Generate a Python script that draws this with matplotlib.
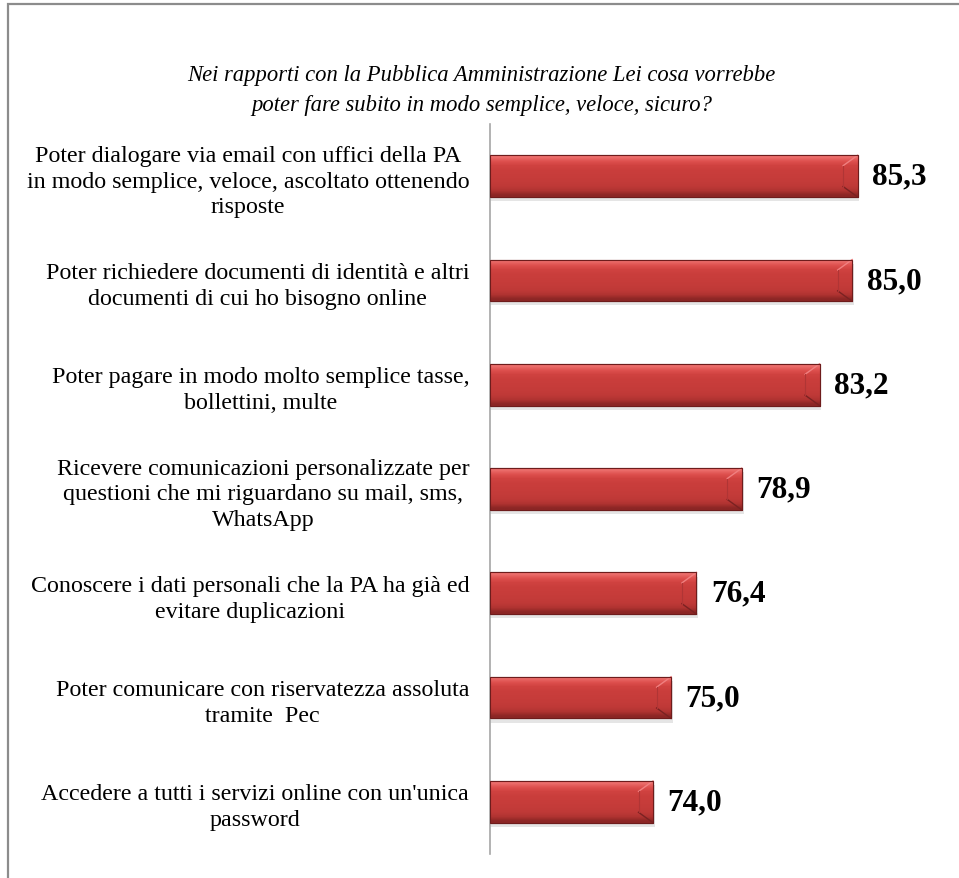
import numpy as np
import matplotlib
matplotlib.use("Agg")
from matplotlib import pyplot as plt
from matplotlib.patches import Rectangle

title = ("Nei rapporti con la Pubblica Amministrazione Lei cosa vorrebbe\n"
         "poter fare subito in modo semplice, veloce, sicuro?")

labels = [
    "Poter dialogare via email con uffici della PA\nin modo semplice, veloce, ascoltato ottenendo\nrisposte",
    "Poter richiedere documenti di identità e altri\ndocumenti di cui ho bisogno online",
    "Poter pagare in modo molto semplice tasse,\nbollettini, multe",
    "Ricevere comunicazioni personalizzate per\nquestioni che mi riguardano su mail, sms,\nWhatsApp",
    "Conoscere i dati personali che la PA ha già ed\nevitare duplicazioni",
    "Poter comunicare con riservatezza assoluta\ntramite  Pec",
    "Accedere a tutti i servizi online con un'unica\npassword",
]
values = [85.3, 85.0, 83.2, 78.9, 76.4, 75.0, 74.0]

plt.rcParams['font.family'] = ['Liberation Serif', 'DejaVu Serif']

fig = plt.figure(figsize=(9.59, 8.79), dpi=100)
fig.patch.set_facecolor('white')

# grey frame round the chart (cut off at right and bottom)
fig.add_artist(Rectangle((8 / 959, -0.1), 1.2, 0.1 + 1 - 5 / 879,
                         transform=fig.transFigure, fill=False,
                         edgecolor='#8c8c8c', lw=1.6))

fig.text(0.502, 0.897, title, ha='center', va='center', style='italic',
         fontsize=16.3, linespacing=1.6)

ax = fig.add_axes([0.511, 0.0273, 0.472, 0.8305])
xmin = 65
ax.set_xlim(xmin, 90)
ax.set_ylim(len(values) - 0.5, -0.5)

# vertical gradient for the bevelled bars
grad = np.array([
    [236, 110, 108], [222, 80, 78], [208, 66, 64], [202, 62, 60],
    [200, 61, 59], [198, 60, 58], [195, 59, 57], [190, 57, 55],
    [176, 51, 49], [140, 38, 37],
]) / 255.0
grad = grad[:, None, :]

h = 0.40
ypos = np.arange(len(values))
for y, v in zip(ypos, values):
    # soft shadow
    ax.barh(y + 0.04, v - xmin + 0.1, left=xmin, height=h, color='#000000',
            alpha=0.10, lw=0, zorder=1)
    bar = ax.barh(y, v - xmin, left=xmin, height=h, color='#c43c3b',
                  edgecolor='#6e1c1c', lw=0.8, zorder=2)[0]
    im = ax.imshow(grad, extent=(xmin, v, y + h / 2, y - h / 2),
                   aspect='auto', zorder=3, interpolation='bilinear')
    im.set_clip_path(bar)
    # bevelled right end
    ax.plot([v - 0.8, v], [y - h / 2 + 0.1, y - h / 2], color='#f08080',
            lw=1, zorder=4)
    ax.plot([v - 0.8, v], [y + h / 2 - 0.1, y + h / 2], color='#7a2222',
            lw=1, zorder=4)
    ax.plot([v - 0.8, v - 0.8], [y - h / 2 + 0.1, y + h / 2 - 0.1],
            color='#b03535', lw=0.8, zorder=4)
    ax.add_patch(Rectangle((xmin, y - h / 2), v - xmin, h, fill=False,
                           edgecolor='#6e1c1c', lw=0.8, zorder=5))
    ax.annotate(f"{v:.1f}".replace('.', ','), (v, y), xytext=(10.5, 0),
                textcoords='offset points', ha='left', va='center',
                fontsize=22.5, fontweight='bold')

ax.set_yticks(ypos)
ax.set_yticklabels(labels, fontsize=17.3, multialignment='center',
                   linespacing=1.3)
ax.tick_params(axis='y', length=0, pad=15)
ax.set_xticks([])
for s in ['top', 'right', 'bottom']:
    ax.spines[s].set_visible(False)
ax.spines['left'].set_color('#a6a6a6')
ax.spines['left'].set_linewidth(1.2)

fig.savefig("out.png", dpi=100)
